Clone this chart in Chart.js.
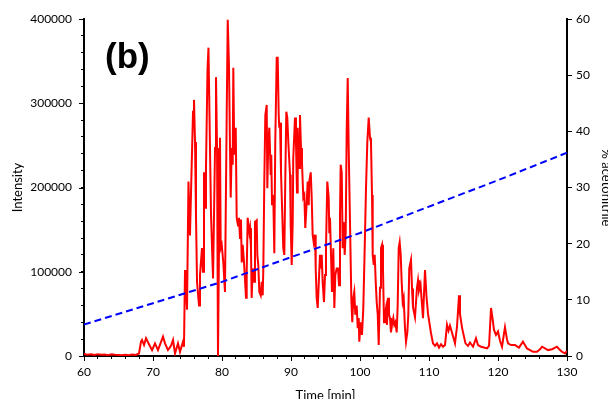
<!DOCTYPE html>
<html>
<head>
<meta charset="utf-8">
<script src="https://cdn.jsdelivr.net/npm/chart.js@4"></script>
<style>
  html, body { margin: 0; padding: 0; background: #fff; overflow: hidden; }
  canvas { display: block; }
</style>
</head>
<body>
<canvas id="chart" width="620" height="404"></canvas>
<script>
// chromatogram trace (time in min, intensity in counts)
const retentionTime = [
  60, 60.5, 61, 61.5, 62, 62.5, 63, 63.5, 64, 64.5, 65, 65.5, 66, 66.5, 67, 67.5,
  67.97, 68.26, 68.41, 68.70, 68.99, 69.42, 69.86, 70.29, 70.72, 71.45, 71.74, 72.17,
  72.61, 72.90, 73.19, 73.62, 73.91, 74.35, 74.49, 74.64, 74.78, 74.93, 75.14, 75.36,
  75.51, 75.80, 75.94, 76.09, 76.23, 76.38, 76.67, 76.81, 77.10, 77.25, 77.39, 77.54,
  77.68, 77.90, 78.04, 78.16, 78.41, 78.70, 78.99, 79.13, 79.28, 79.42, 79.57, 79.71,
  79.81, 79.96, 80.19, 80.43, 80.68, 80.83, 81.01, 81.16, 81.26, 81.41, 81.55, 81.64,
  81.78, 81.99, 82.13, 82.32, 82.46, 82.61, 82.75, 82.86, 83.00, 83.19, 83.48, 83.58,
  83.72, 83.96, 84.06, 84.20, 84.30, 84.45, 84.64, 84.78, 85.03, 85.12, 85.26, 85.41,
  85.61, 85.75, 85.90, 85.99, 86.13, 86.28, 86.48, 86.57, 86.71, 86.86, 87.06, 87.14,
  87.25, 87.43, 87.58, 87.72, 87.93, 88.07, 88.22, 88.30, 88.41, 88.55, 88.74, 88.88,
  89.03, 89.17, 89.32, 89.46, 89.61, 89.86, 89.96, 90.10, 90.25, 90.33, 90.58, 90.72,
  90.87, 90.97, 91.16, 91.30, 91.45, 91.59, 91.78, 91.93, 92.07, 92.28, 92.42, 92.57,
  92.65, 92.86, 93.00, 93.14, 93.29, 93.48, 93.58, 93.72, 93.87, 94.01, 94.20, 94.30,
  94.45, 94.59, 94.78, 94.93, 95.07, 95.26, 95.46, 95.55, 95.65, 95.80, 95.94, 96.13,
  96.28, 96.42, 96.62, 96.81, 96.96, 97.10, 97.20, 97.35, 97.49, 97.64, 97.78, 97.93,
  98.07, 98.22, 98.36, 98.55, 98.74, 98.88, 99.03, 99.17, 99.32, 99.52, 99.67, 99.81,
  99.90, 100.10, 100.29, 100.48, 100.68, 100.87, 101.06, 101.26, 101.45, 101.59, 101.74, 101.84,
  101.99, 102.13, 102.28, 102.42, 102.57, 102.71, 102.90, 103.04, 103.19, 103.33, 103.48, 103.62,
  103.77, 103.91, 104.06, 104.20, 104.35, 104.49, 104.64, 104.83, 104.97, 105.12, 105.32, 105.46,
  105.61, 105.75, 105.90, 106.04, 106.19, 106.33, 106.52, 106.67, 106.86, 107.00, 107.14, 107.39,
  107.54, 107.68, 107.97, 108.26, 108.41, 108.55, 108.77, 109.13, 109.42, 109.64, 109.86, 110.29,
  110.58, 110.87, 111.16, 111.45, 111.74, 112.03, 112.32, 112.61, 112.83, 113.04, 113.33, 113.77,
  114.06, 114.35, 114.49, 114.78, 115.07, 115.29, 115.65, 115.94, 116.38, 116.81, 117.10, 117.54,
  117.97, 118.41, 118.70, 118.99, 119.20, 119.42, 119.71, 120.00, 120.29, 120.58, 121.01, 121.30,
  121.45, 121.88, 122.46, 123.04, 123.62, 124.20, 124.64, 125.07, 125.65, 126.09, 126.38, 126.81,
  127.25, 127.83, 128.55, 128.99, 129.28, 129.71, 130.00
];
const intensity = [
  2500, 1500, 2000, 1200, 2200, 1500, 1800, 1000, 2000, 1500, 1200, 800, 1500, 1000, 1800, 1200,
  3000, 17000, 19000, 13000, 21000, 14000, 7000, 15000, 7000, 23000, 15000, 7000,
  12000, 19000, 3000, 15000, 5000, 17000, 11000, 102000, 80000, 55000, 207000, 143000,
  194000, 290000, 304000, 254000, 167000, 88000, 60000, 96000, 128000, 100000, 218000, 176000,
  223000, 340000, 366000, 300000, 167000, 92000, 247000, 331000, 247000, 0, 135000, 259000,
  128000, 132000, 111000, 76000, 286000, 399000, 345000, 247000, 188000, 247000, 227000, 342000,
  239000, 271000, 164000, 155000, 164000, 140000, 162000, 111000, 132000, 111000, 69000, 100000,
  164000, 147000, 152000, 128000, 69000, 104000, 88000, 159000, 161000, 120000, 108000, 76000,
  72000, 88000, 72000, 104000, 207000, 286000, 298000, 199000, 254000, 271000, 215000, 239000,
  179000, 191000, 122000, 254000, 354000, 354000, 286000, 271000, 277000, 218000, 167000, 128000,
  120000, 207000, 290000, 283000, 254000, 215000, 155000, 108000, 159000, 235000, 283000, 254000,
  194000, 271000, 223000, 286000, 247000, 230000, 188000, 191000, 152000, 183000, 207000, 179000,
  207000, 218000, 188000, 144000, 135000, 144000, 104000, 69000, 57000, 84000, 120000, 104000,
  120000, 88000, 64000, 96000, 128000, 207000, 188000, 147000, 164000, 120000, 76000, 128000,
  57000, 96000, 104000, 104000, 84000, 167000, 227000, 218000, 128000, 159000, 120000, 147000,
  266000, 330000, 247000, 159000, 69000, 40000, 69000, 76000, 49000, 60000, 33000, 45000,
  17000, 40000, 25000, 57000, 128000, 199000, 254000, 283000, 259000, 254000, 191000, 120000,
  108000, 120000, 88000, 64000, 49000, 13000, 81000, 128000, 132000, 104000, 40000, 49000,
  57000, 37000, 69000, 49000, 45000, 28000, 37000, 45000, 37000, 40000, 28000, 60000,
  128000, 135000, 120000, 88000, 64000, 69000, 33000, 17000, 28000, 49000, 104000, 114000,
  80000, 58000, 46000, 81000, 90000, 78000, 85000, 45000, 102000, 70000, 50000, 27000,
  15000, 12000, 15000, 10000, 14000, 11000, 13000, 37000, 30000, 36000, 28000, 15000,
  35000, 72000, 50000, 34000, 23000, 15000, 12000, 16000, 11000, 21000, 13000, 11000,
  10000, 9000, 12000, 57000, 45000, 31000, 25000, 29000, 18000, 11000, 34000, 20000,
  15000, 13000, 13000, 10000, 17000, 9000, 7000, 5000, 5000, 8000, 11000, 9000,
  7000, 8000, 11000, 7000, 5000, 3000, 6000
];

// solvent gradient (% acetonitrile, right axis)
const gradientTime = [60, 70, 80, 90, 100, 110, 120, 130];
const acetonitrile = [5.6, 9.4, 13.2, 17.6, 21.9, 26.6, 31.3, 36.2];

const xTicks = [60, 70, 80, 90, 100, 110, 120, 130];
const intensityTicks = [0, 100000, 200000, 300000, 400000];
const percentTicks = [0, 10, 20, 30, 40, 50, 60];

const FONT = 'Lato, "Open Sans", sans-serif';

// longer tick marks for the labelled (major) values, plus the panel letter
const extrasPlugin = {
  id: 'extras',
  afterDraw(chart) {
    const ctx = chart.ctx;
    const { x, y } = chart.scales;
    const area = chart.chartArea;
    ctx.save();
    ctx.strokeStyle = '#000';
    ctx.lineWidth = 1;
    xTicks.forEach(v => {
      const px = Math.round(x.getPixelForValue(v)) + 0.5;
      ctx.beginPath();
      ctx.moveTo(px, area.bottom);
      ctx.lineTo(px, area.bottom + 5);
      ctx.stroke();
    });
    intensityTicks.forEach(v => {
      const py = Math.round(y.getPixelForValue(v)) + 0.5;
      ctx.beginPath();
      ctx.moveTo(area.left, py);
      ctx.lineTo(area.left - 5, py);
      ctx.stroke();
    });
    ctx.fillStyle = '#000';
    ctx.font = 'bold 35px "Liberation Sans", Arial, sans-serif';
    ctx.textBaseline = 'alphabetic';
    ctx.textAlign = 'left';
    ctx.fillText('(b)', area.left + 21, area.top + 49);
    ctx.restore();
  }
};

const traceData = retentionTime.map((t, i) => ({ x: t, y: intensity[i] }));
const gradientData = gradientTime.map((t, i) => ({ x: t, y: acetonitrile[i] }));

new Chart(document.getElementById('chart'), {
  type: 'line',
  data: {
    datasets: [
      {
        label: 'Intensity',
        data: traceData,
        yAxisID: 'y',
        borderColor: '#ff0000',
        borderWidth: 2,
        pointRadius: 0,
        tension: 0,
        order: 2
      },
      {
        label: '% acetonitrile',
        data: gradientData,
        yAxisID: 'y2',
        borderColor: '#0000ff',
        borderWidth: 2,
        borderDash: [7, 4],
        pointRadius: 0,
        tension: 0,
        order: 1
      }
    ]
  },
  options: {
    responsive: false,
    devicePixelRatio: 1,
    animation: false,
    layout: { padding: { top: 19, left: 0, right: 0, bottom: 0 } },
    plugins: {
      legend: { display: false },
      tooltip: { enabled: false }
    },
    scales: {
      x: {
        type: 'linear',
        position: 'bottom',
        min: 60,
        max: 130,
        afterFit: s => { s.height = 48; },
        ticks: {
          stepSize: 2,
          autoSkip: false,
          maxRotation: 0,
          padding: 6,
          color: '#000',
          font: { family: FONT, size: 12 },
          callback: v => (xTicks.includes(v) ? v : '')
        },
        grid: { drawOnChartArea: false, tickLength: 3, color: '#000' },
        border: { color: '#000', width: 2 },
        title: {
          display: true,
          text: 'Time [min]',
          color: '#000',
          font: { family: FONT, size: 13 },
          padding: { top: 2, bottom: 0 }
        }
      },
      y: {
        position: 'left',
        min: 0,
        max: 400000,
        afterFit: s => { s.width = 84; },
        ticks: {
          stepSize: 20000,
          autoSkip: false,
          padding: 9,
          color: '#000',
          font: { family: FONT, size: 12 },
          callback: v => (intensityTicks.includes(v) ? v : '')
        },
        grid: { drawOnChartArea: false, tickLength: 3, color: '#000' },
        border: { color: '#000', width: 2 },
        title: {
          display: true,
          text: 'Intensity',
          color: '#000',
          font: { family: FONT, size: 13 },
          padding: { top: 10, bottom: 0 }
        }
      },
      y2: {
        position: 'right',
        min: 0,
        max: 60,
        afterFit: s => { s.width = 53; },
        ticks: {
          stepSize: 10,
          padding: 4,
          color: '#000',
          font: { family: FONT, size: 12 },
          callback: v => (percentTicks.includes(v) ? v : '')
        },
        grid: { drawOnChartArea: false, tickLength: 5, color: '#000' },
        border: { color: '#000', width: 2 },
        title: {
          display: true,
          text: '% acetonitrile',
          color: '#000',
          font: { family: FONT, size: 13 },
          padding: { top: 6, bottom: 0 }
        }
      }
    }
  },
  plugins: [extrasPlugin]
});
</script>
</body>
</html>
